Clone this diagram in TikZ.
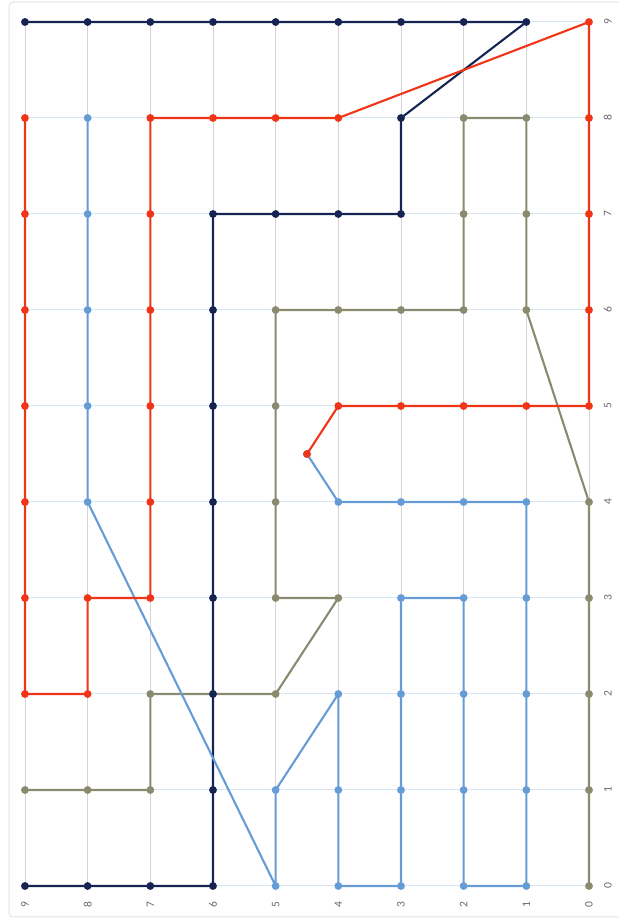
\documentclass[tikz,border=0pt]{standalone}
\usepackage{fontspec}
\setmainfont{Carlito}
\definecolor{navyline}{RGB}{22,36,84}
\definecolor{redline}{RGB}{240,52,22}
\definecolor{blueline}{RGB}{102,156,214}
\definecolor{oliveline}{RGB}{138,138,110}
\definecolor{gridv}{RGB}{212,212,214}
\definecolor{gridh}{RGB}{214,230,242}
\definecolor{framec}{RGB}{222,228,234}
\definecolor{labgray}{RGB}{105,105,105}

\begin{document}
\begin{tikzpicture}[x=1pt, y=1pt,
    frame/.style={draw=framec, line width=1pt, rounded corners=4pt},
    vgrid/.style={draw=gridv, line width=0.7pt},
    hgrid/.style={draw=gridh, line width=1pt},
    serie/.style={line width=2.1pt, line join=round, mark=*, mark size=2.8pt},
    tick/.style={font=\fontsize{11.5}{13}\selectfont, text=labgray, rotate=90, inner sep=0pt}]
    \useasboundingbox (0,0) rectangle (619,924);
    \draw[frame] (619,922) -| (9,7) -- (619,7);
    % chart turned a quarter turn: first value runs up, second runs left
    \begin{scope}[shift={(589pt,38pt)}, x={(0pt,96pt)}, y={(-62.67pt,0pt)}]
      % grid
      \foreach \a in {0,...,9} \draw[hgrid] (\a,0) -- (\a,9);
      \foreach \b in {0,...,9} \draw[vgrid] (0,\b) -- (9,\b);
      % tick labels
      \foreach \a in {0,...,9} \node[tick] (xlab\a) at (\a,-0.3) {\a};
      \foreach \b in {0,...,9} \node[tick] (ylab\b) at (-0.19,\b) {\b};
      % series
      \draw[serie, oliveline] plot coordinates {(1,9) (1,8) (1,7) (2,7) (2,6) (2,5) (3,4) (3,5) (4,5) (5,5) (6,5) (6,4) (6,3) (6,2) (7,2) (8,2) (8,1) (7,1) (6,1) (4,0) (3,0) (2,0) (1,0) (0,0)};
      \draw[serie, navyline] plot coordinates {(9,9) (9,8) (9,7) (9,6) (9,5) (9,4) (9,3) (9,2) (9,1) (8,3) (7,3) (7,4) (7,5) (7,6) (6,6) (5,6) (4,6) (3,6) (2,6) (1,6) (0,6) (0,7) (0,8) (0,9)};
      \draw[serie, blueline] plot coordinates {(4.5,4.5) (4,4) (4,3) (4,2) (4,1) (3,1) (2,1) (1,1) (0,1) (0,2) (1,2) (2,2) (3,2) (3,3) (2,3) (1,3) (0,3) (0,4) (1,4) (2,4) (1,5) (0,5) (4,8) (5,8) (6,8) (7,8) (8,8)};
      \draw[serie, redline] plot coordinates {(8,9) (7,9) (6,9) (5,9) (4,9) (3,9) (2,9) (2,8) (3,8) (3,7) (4,7) (5,7) (6,7) (7,7) (8,7) (8,6) (8,5) (8,4) (9,0) (8,0) (7,0) (6,0) (5,0) (5,1) (5,2) (5,3) (5,4) (4.5,4.5)};
    \end{scope}
  \end{tikzpicture}
\end{document}
